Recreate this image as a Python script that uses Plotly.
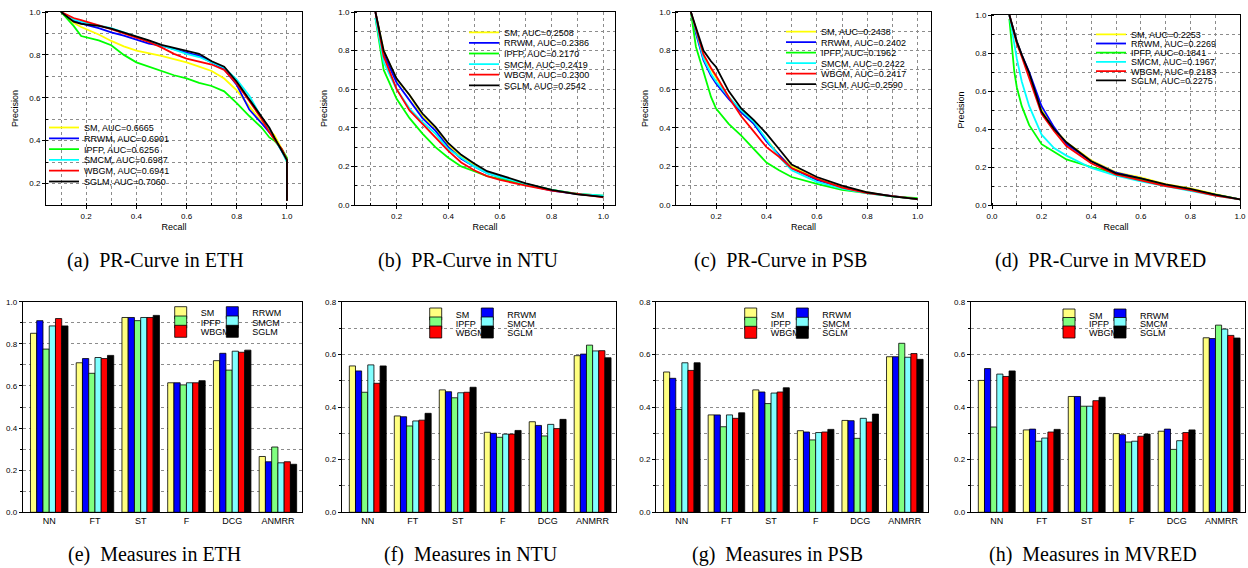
import plotly.graph_objects as go

W, H = 1248, 568
FONT = "Liberation Sans, Arial, sans-serif"
SERIF = "Liberation Serif, Times New Roman, serif"

METHODS = ["SM", "RRWM", "IPFP", "SMCM", "WBGM", "SGLM"]
LINE_COLORS = ["#FFFF00", "#0000FF", "#00FF00", "#00FFFF", "#FF0000", "#000000"]
BAR_COLORS = ["#FFFF80", "#0000FF", "#80FF80", "#80FFFF", "#FF0000", "#000000"]
MEASURES = ["NN", "FT", "ST", "F", "DCG", "ANMRR"]

# ---------------- PR curves ----------------
# ETH
R_ETH = [0.10, 0.15, 0.18, 0.20, 0.25, 0.30, 0.35, 0.40, 0.45, 0.50, 0.55, 0.60, 0.65,
         0.70, 0.75, 0.80, 0.85, 0.90, 0.93, 0.95, 0.98, 1.00, 1.00]
ETH_SM = [1.0, 0.950, 0.930, 0.920, 0.895, 0.865, 0.840, 0.820, 0.808, 0.795, 0.780, 0.765, 0.745,
          0.725, 0.690, 0.635, 0.560, 0.485, 0.450, 0.425, 0.360, 0.300, 0.12]
ETH_RRWM = [1.0, 0.960, 0.948, 0.940, 0.925, 0.905, 0.890, 0.870, 0.853, 0.843, 0.825, 0.810, 0.795,
            0.765, 0.735, 0.660, 0.545, 0.480, 0.440, 0.410, 0.350, 0.310, 0.12]
ETH_IPFP = [1.0, 0.935, 0.888, 0.883, 0.868, 0.845, 0.800, 0.765, 0.745, 0.728, 0.705, 0.690, 0.670,
            0.655, 0.630, 0.575, 0.515, 0.460, 0.415, 0.400, 0.360, 0.320, 0.12]
ETH_SMCM = [1.0, 0.965, 0.955, 0.950, 0.937, 0.925, 0.905, 0.885, 0.865, 0.845, 0.825, 0.805, 0.790,
            0.765, 0.740, 0.685, 0.610, 0.505, 0.450, 0.410, 0.350, 0.300, 0.12]
ETH_WBGM = [1.0, 0.972, 0.962, 0.955, 0.940, 0.920, 0.900, 0.880, 0.860, 0.835, 0.805, 0.783, 0.770,
            0.755, 0.730, 0.665, 0.585, 0.500, 0.440, 0.405, 0.360, 0.310, 0.12]
ETH_SGLM = [1.0, 0.955, 0.945, 0.943, 0.935, 0.922, 0.905, 0.888, 0.868, 0.847, 0.833, 0.820, 0.805,
            0.770, 0.745, 0.675, 0.590, 0.505, 0.460, 0.415, 0.355, 0.310, 0.12]
AUC_ETH = [0.6665, 0.6901, 0.6256, 0.6987, 0.6941, 0.7060]

# NTU
R_NTU = [0.118, 0.15, 0.20, 0.25, 0.30, 0.35, 0.40, 0.45, 0.50, 0.55, 0.60, 0.70, 0.80, 0.90, 1.00]
NTU_SM = [1.0, 0.80, 0.650, 0.570, 0.460, 0.400, 0.310, 0.250, 0.210, 0.170, 0.150, 0.110, 0.078, 0.057, 0.045]
NTU_RRWM = [1.0, 0.78, 0.635, 0.540, 0.450, 0.385, 0.300, 0.240, 0.200, 0.165, 0.145, 0.105, 0.075, 0.056, 0.045]
NTU_IPFP = [0.97, 0.70, 0.550, 0.450, 0.370, 0.300, 0.245, 0.200, 0.175, 0.150, 0.135, 0.105, 0.078, 0.058, 0.048]
NTU_SMCM = [0.97, 0.74, 0.600, 0.500, 0.430, 0.370, 0.290, 0.245, 0.200, 0.165, 0.145, 0.110, 0.078, 0.058, 0.048]
NTU_WBGM = [1.0, 0.77, 0.600, 0.490, 0.420, 0.350, 0.280, 0.220, 0.180, 0.150, 0.130, 0.100, 0.075, 0.058, 0.040]
NTU_SGLM = [1.0, 0.80, 0.655, 0.570, 0.474, 0.405, 0.320, 0.260, 0.215, 0.175, 0.155, 0.112, 0.078, 0.055, 0.042]
AUC_NTU = [0.2508, 0.2386, 0.2170, 0.2419, 0.2300, 0.2542]

# PSB
R_PSB = [0.10, 0.12, 0.15, 0.18, 0.20, 0.25, 0.30, 0.35, 0.40, 0.45, 0.50, 0.60, 0.70, 0.80, 0.90, 1.00]
PSB_SM = [1.0, 0.90, 0.77, 0.70, 0.66, 0.56, 0.48, 0.42, 0.34, 0.26, 0.20, 0.135, 0.095, 0.065, 0.045, 0.030]
PSB_RRWM = [1.0, 0.89, 0.75, 0.67, 0.63, 0.55, 0.48, 0.42, 0.33, 0.26, 0.19, 0.130, 0.090, 0.063, 0.045, 0.030]
PSB_IPFP = [1.0, 0.82, 0.69, 0.56, 0.50, 0.42, 0.36, 0.29, 0.22, 0.18, 0.145, 0.110, 0.078, 0.062, 0.045, 0.035]
PSB_SMCM = [1.0, 0.90, 0.76, 0.68, 0.64, 0.56, 0.49, 0.43, 0.34, 0.25, 0.18, 0.120, 0.085, 0.060, 0.045, 0.030]
PSB_WBGM = [1.0, 0.91, 0.78, 0.71, 0.67, 0.56, 0.46, 0.38, 0.30, 0.25, 0.19, 0.135, 0.090, 0.062, 0.045, 0.030]
PSB_SGLM = [1.0, 0.92, 0.80, 0.745, 0.715, 0.59, 0.50, 0.44, 0.37, 0.29, 0.21, 0.145, 0.100, 0.066, 0.045, 0.030]
AUC_PSB = [0.2438, 0.2402, 0.1962, 0.2422, 0.2417, 0.2590]

# MVRED
R_MVRED = [0.07, 0.09, 0.10, 0.12, 0.15, 0.20, 0.25, 0.30, 0.40, 0.50, 0.60, 0.70, 0.80, 0.90, 1.00]
MVRED_SM = [1.0, 0.91, 0.86, 0.79, 0.690, 0.500, 0.405, 0.330, 0.235, 0.172, 0.145, 0.110, 0.087, 0.057, 0.030]
MVRED_RRWM = [1.0, 0.91, 0.86, 0.79, 0.700, 0.520, 0.410, 0.320, 0.230, 0.170, 0.140, 0.105, 0.080, 0.052, 0.030]
MVRED_IPFP = [0.98, 0.70, 0.62, 0.52, 0.420, 0.320, 0.280, 0.240, 0.200, 0.165, 0.135, 0.105, 0.080, 0.055, 0.030]
MVRED_SMCM = [1.0, 0.84, 0.77, 0.65, 0.520, 0.370, 0.300, 0.260, 0.195, 0.155, 0.125, 0.100, 0.075, 0.050, 0.030]
MVRED_WBGM = [1.0, 0.90, 0.85, 0.78, 0.670, 0.480, 0.390, 0.310, 0.220, 0.160, 0.130, 0.100, 0.078, 0.050, 0.030]
MVRED_SGLM = [1.0, 0.91, 0.86, 0.79, 0.695, 0.490, 0.400, 0.330, 0.230, 0.167, 0.140, 0.108, 0.085, 0.055, 0.030]
AUC_MVRED = [0.2253, 0.2269, 0.1841, 0.1967, 0.2183, 0.2275]

# ---------------- Measures (NN, FT, ST, F, DCG, ANMRR) ----------------
ETH_BAR_SM = [0.850, 0.710, 0.925, 0.615, 0.720, 0.265]
ETH_BAR_RRWM = [0.910, 0.730, 0.925, 0.615, 0.755, 0.240]
ETH_BAR_IPFP = [0.775, 0.660, 0.910, 0.605, 0.675, 0.310]
ETH_BAR_SMCM = [0.885, 0.735, 0.925, 0.615, 0.765, 0.235]
ETH_BAR_WBGM = [0.920, 0.730, 0.925, 0.615, 0.760, 0.240]
ETH_BAR_SGLM = [0.885, 0.745, 0.935, 0.625, 0.770, 0.228]

NTU_BAR_SM = [0.556, 0.366, 0.465, 0.304, 0.344, 0.595]
NTU_BAR_RRWM = [0.537, 0.363, 0.458, 0.300, 0.330, 0.601]
NTU_BAR_IPFP = [0.456, 0.328, 0.435, 0.285, 0.290, 0.635]
NTU_BAR_SMCM = [0.560, 0.347, 0.454, 0.297, 0.334, 0.613]
NTU_BAR_WBGM = [0.490, 0.350, 0.456, 0.297, 0.318, 0.614]
NTU_BAR_SGLM = [0.556, 0.376, 0.475, 0.311, 0.353, 0.587]

PSB_BAR_SM = [0.533, 0.370, 0.465, 0.310, 0.349, 0.591]
PSB_BAR_RRWM = [0.509, 0.370, 0.457, 0.305, 0.348, 0.591]
PSB_BAR_IPFP = [0.391, 0.325, 0.413, 0.275, 0.281, 0.642]
PSB_BAR_SMCM = [0.568, 0.370, 0.453, 0.303, 0.357, 0.589]
PSB_BAR_WBGM = [0.539, 0.357, 0.457, 0.305, 0.343, 0.603]
PSB_BAR_SGLM = [0.568, 0.378, 0.473, 0.315, 0.373, 0.581]

MVRED_BAR_SM = [0.501, 0.313, 0.440, 0.299, 0.308, 0.663]
MVRED_BAR_RRWM = [0.546, 0.316, 0.440, 0.295, 0.316, 0.660]
MVRED_BAR_IPFP = [0.324, 0.270, 0.403, 0.267, 0.239, 0.711]
MVRED_BAR_SMCM = [0.525, 0.282, 0.403, 0.270, 0.272, 0.696]
MVRED_BAR_WBGM = [0.516, 0.305, 0.424, 0.289, 0.303, 0.672]
MVRED_BAR_SGLM = [0.537, 0.315, 0.437, 0.297, 0.313, 0.662]

PR_CAPTIONS = ["(a)\u00a0\u00a0PR-Curve in ETH", "(b)\u00a0\u00a0PR-Curve in NTU",
               "(c)\u00a0\u00a0PR-Curve in PSB", "(d)\u00a0\u00a0PR-Curve in MVRED"]
BAR_CAPTIONS = ["(e)\u00a0\u00a0Measures in ETH", "(f)\u00a0\u00a0Measures in NTU",
                "(g)\u00a0\u00a0Measures in PSB", "(h)\u00a0\u00a0Measures in MVRED"]

pr_sets = [
    (R_ETH, [ETH_SM, ETH_RRWM, ETH_IPFP, ETH_SMCM, ETH_WBGM, ETH_SGLM], AUC_ETH),
    (R_NTU, [NTU_SM, NTU_RRWM, NTU_IPFP, NTU_SMCM, NTU_WBGM, NTU_SGLM], AUC_NTU),
    (R_PSB, [PSB_SM, PSB_RRWM, PSB_IPFP, PSB_SMCM, PSB_WBGM, PSB_SGLM], AUC_PSB),
    (R_MVRED, [MVRED_SM, MVRED_RRWM, MVRED_IPFP, MVRED_SMCM, MVRED_WBGM, MVRED_SGLM], AUC_MVRED),
]
bar_sets = [
    [ETH_BAR_SM, ETH_BAR_RRWM, ETH_BAR_IPFP, ETH_BAR_SMCM, ETH_BAR_WBGM, ETH_BAR_SGLM],
    [NTU_BAR_SM, NTU_BAR_RRWM, NTU_BAR_IPFP, NTU_BAR_SMCM, NTU_BAR_WBGM, NTU_BAR_SGLM],
    [PSB_BAR_SM, PSB_BAR_RRWM, PSB_BAR_IPFP, PSB_BAR_SMCM, PSB_BAR_WBGM, PSB_BAR_SGLM],
    [MVRED_BAR_SM, MVRED_BAR_RRWM, MVRED_BAR_IPFP, MVRED_BAR_SMCM, MVRED_BAR_WBGM, MVRED_BAR_SGLM],
]

# ---------------- layout geometry (pixels) ----------------
PR_DOM_X = [(46, 302), (355, 615), (676, 931), (992, 1240)]
PR_DOM_Y = [(12, 205), (12, 205), (12, 205), (15, 205)]
PR_XRANGE = [(0.04, 1.06), (0.039, 1.045), (0.041, 1.053), (0.0, 1.0)]
PR_YRANGE = [(0.1, 1.0), (0.0, 1.0), (0.0, 1.0), (0.0, 1.0)]
PR_LEG_X = [44, 464, 781, 1091]
PR_LEG_Y0 = [127.5, 32.3, 31.7, 34.3]
PR_LEG_DY = [10.8, 10.6, 10.5, 9.2]
PR_CAP_X = [155, 468, 780, 1100]

BAR_DOM_X = [(22.7, 301.7), (341.7, 616), (656, 928), (970.7, 1245)]
BAR_DOM_Y = (301.7, 512.3)
BAR_YMAX = [1.0, 0.8, 0.8, 0.8]
BAR_LEG_TX = [(196.7, 248.3), (451.7, 503.3), (766.7, 818.3), (1085, 1136)]
BAR_LEG_Y = [(312.7, 322, 331.3), (314, 323, 332), (314, 323.3, 332.3), (315, 323.5, 332)]
BAR_CAP_X = [154, 471, 777, 1093]

GRID = "#8c8c8c"


def dx(a, b):
    return [a / W, b / W]


def dy(top, bottom):
    return [1 - bottom / H, 1 - top / H]


def base_axis():
    return dict(
        showline=True, linecolor="black", linewidth=1, mirror=True,
        ticks="outside", ticklen=3, tickcolor="black", tickwidth=1,
        tickfont=dict(family=FONT, size=8, color="black"),
        zeroline=False, showgrid=True, gridcolor=GRID, griddash="dot", gridwidth=1,
        fixedrange=True,
    )


layout = dict(
    width=W, height=H, autosize=False,
    margin=dict(l=0, r=0, t=0, b=0, autoexpand=False),
    plot_bgcolor="white", paper_bgcolor="white",
    barmode="group", bargap=0.18, bargroupgap=0.0,
    showlegend=True,
    annotations=[],
)

traces = []
leg_count = 0


def legend_key(n):
    return "legend" if n == 1 else f"legend{n}"


def make_legend(xpx, ypx):
    return dict(
        x=xpx / W, y=1 - ypx / H, xanchor="left", yanchor="middle",
        xref="paper", yref="paper", bgcolor="rgba(0,0,0,0)", borderwidth=0,
        font=dict(family=FONT, size=9, color="black"),
    )


# PR panels: axes 1..4
for i in range(4):
    n = i + 1
    xa = "xaxis" if n == 1 else f"xaxis{n}"
    ya = "yaxis" if n == 1 else f"yaxis{n}"
    xr = "x" if n == 1 else f"x{n}"
    yr = "y" if n == 1 else f"y{n}"
    ax = base_axis()
    ax.update(domain=dx(*PR_DOM_X[i]), range=list(PR_XRANGE[i]), anchor=yr,
              tick0=0, dtick=0.2, tickformat=".1f",
              minor=dict(dtick=0.1, tick0=0, showgrid=True, gridcolor=GRID, griddash="dot",
                         ticks="inside", ticklen=2, tickcolor="black"),
              title=dict(text="Recall", font=dict(family=FONT, size=9, color="black"), standoff=4))
    ay = base_axis()
    ay.update(domain=dy(*PR_DOM_Y[i]), range=list(PR_YRANGE[i]), anchor=xr,
              tick0=0, dtick=0.2, tickformat=".1f",
              minor=dict(dtick=0.1, tick0=0, showgrid=True, gridcolor=GRID, griddash="dot",
                         ticks="inside", ticklen=2, tickcolor="black"),
              title=dict(text="Precision", font=dict(family=FONT, size=9, color="black"), standoff=9))
    layout[xa] = ax
    layout[ya] = ay
    recall, precs, aucs = pr_sets[i]
    for k, m in enumerate(METHODS):
        leg_count += 1
        lk = legend_key(leg_count)
        layout[lk] = make_legend(PR_LEG_X[i], PR_LEG_Y0[i] + k * PR_LEG_DY[i])
        traces.append(go.Scatter(
            x=recall, y=precs[k], mode="lines", name=f"{m}, AUC={aucs[k]:.4f}",
            line=dict(color=LINE_COLORS[k], width=1.8), xaxis=xr, yaxis=yr, legend=lk,
            hoverinfo="skip",
        ))
    layout["annotations"].append(dict(
        text=PR_CAPTIONS[i], x=PR_CAP_X[i] / W, y=1 - 260 / H, xref="paper", yref="paper",
        xanchor="center", yanchor="middle", showarrow=False,
        font=dict(family=SERIF, size=20, color="black")))

# Bar panels: axes 5..8
COL_OF = [0, 1, 0, 1, 0, 1]
ROW_OF = [0, 0, 1, 1, 2, 2]
for i in range(4):
    n = i + 5
    xa, ya = f"xaxis{n}", f"yaxis{n}"
    xr, yr = f"x{n}", f"y{n}"
    ax = base_axis()
    ax.update(domain=dx(*BAR_DOM_X[i]), type="category", range=[-0.58, 5.52], anchor=yr,
              showgrid=False, ticks="", tickfont=dict(family=FONT, size=9, color="black"))
    ay = base_axis()
    ay.update(domain=dy(*BAR_DOM_Y), range=[0, BAR_YMAX[i]], anchor=xr,
              tick0=0, dtick=0.2, tickformat=".1f",
              minor=dict(dtick=0.1, tick0=0, showgrid=True, gridcolor=GRID, griddash="dot",
                         ticks="outside", ticklen=2, tickcolor="black"))
    layout[xa] = ax
    layout[ya] = ay
    for k, m in enumerate(METHODS):
        leg_count += 1
        lk = legend_key(leg_count)
        tx = BAR_LEG_TX[i][COL_OF[k]]
        layout[lk] = make_legend(tx - 36, BAR_LEG_Y[i][ROW_OF[k]])
        traces.append(go.Bar(
            x=MEASURES, y=bar_sets[i][k], name=m, xaxis=xr, yaxis=yr, legend=lk,
            marker=dict(color=BAR_COLORS[k], line=dict(color="black", width=0.8)),
            hoverinfo="skip",
        ))
    layout["annotations"].append(dict(
        text=BAR_CAPTIONS[i], x=BAR_CAP_X[i] / W, y=1 - 554 / H, xref="paper", yref="paper",
        xanchor="center", yanchor="middle", showarrow=False,
        font=dict(family=SERIF, size=20, color="black")))

fig = go.Figure(data=traces, layout=layout)
fig.write_html(
    "out.html",
    config={"displayModeBar": False, "staticPlot": False},
    post_script="document.body.style.margin='0';document.body.style.overflow='hidden';",
)
